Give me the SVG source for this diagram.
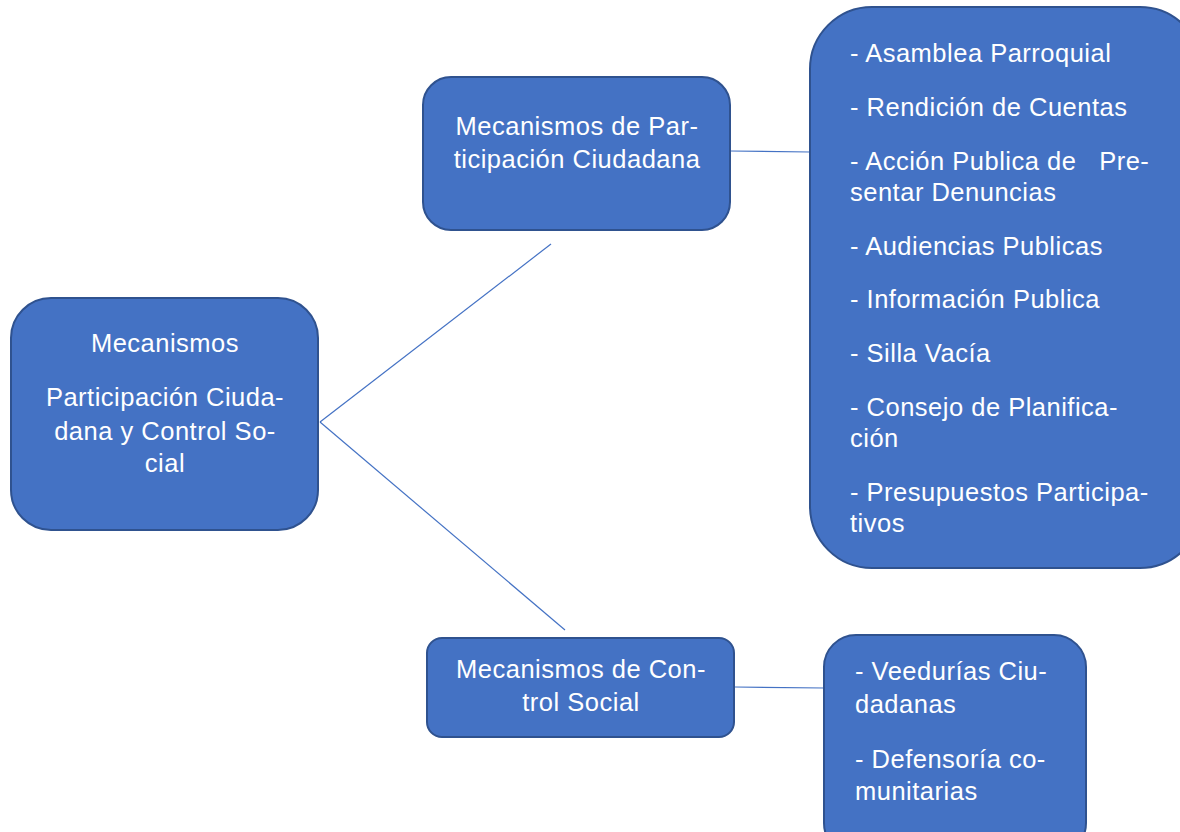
<svg xmlns="http://www.w3.org/2000/svg" width="1180" height="832" viewBox="0 0 1180 832">
<style>
.box{fill:#4472C4;stroke:#2F528F;stroke-width:2}
.t{font-family:"Liberation Sans",Arial,sans-serif;font-size:25.5px;fill:#ffffff;letter-spacing:0.5px}
.c{text-anchor:middle}
.ln{stroke:#4472C4;stroke-width:1.2;fill:none}
</style>
<rect width="1180" height="832" fill="#ffffff"/>
<g id="connectors">
<line class="ln" x1="320" y1="422" x2="551" y2="244"/>
<line class="ln" x1="320" y1="422" x2="565" y2="630"/>
<line class="ln" x1="730" y1="151" x2="810" y2="152"/>
<line class="ln" x1="735" y1="687" x2="824" y2="688"/>
</g>
<g id="root">
<rect class="box" x="11" y="298" width="307" height="232" rx="40"/>
<text class="t c" x="165" y="352">Mecanismos</text>
<text class="t c" x="165" y="406">Participación Ciuda-</text>
<text class="t c" x="165" y="440">dana y Control So-</text>
<text class="t c" x="165" y="472">cial</text>
</g>
<g id="participacion">
<rect class="box" x="423" y="77" width="307" height="153" rx="28"/>
<text class="t c" x="577" y="135">Mecanismos de Par-</text>
<text class="t c" x="577" y="168">ticipación Ciudadana</text>
</g>
<g id="participacion-list">
<rect class="box" x="810" y="7" width="392" height="561" rx="62"/>
<text class="t" x="850" y="62">- Asamblea Parroquial</text>
<text class="t" x="850" y="116">- Rendición de Cuentas</text>
<text class="t" x="850" y="170" xml:space="preserve">- Acción Publica de   Pre-</text>
<text class="t" x="850" y="201">sentar Denuncias</text>
<text class="t" x="850" y="255">- Audiencias Publicas</text>
<text class="t" x="850" y="308">- Información Publica</text>
<text class="t" x="850" y="362">- Silla Vacía</text>
<text class="t" x="850" y="416">- Consejo de Planifica-</text>
<text class="t" x="850" y="447">ción</text>
<text class="t" x="850" y="501">- Presupuestos Participa-</text>
<text class="t" x="850" y="532">tivos</text>
</g>
<g id="control">
<rect class="box" x="427" y="638" width="307" height="99" rx="15"/>
<text class="t c" x="581" y="678">Mecanismos de Con-</text>
<text class="t c" x="581" y="711">trol Social</text>
</g>
<g id="control-list">
<rect class="box" x="824" y="635" width="262" height="220" rx="32"/>
<text class="t" x="855" y="680">- Veedurías Ciu-</text>
<text class="t" x="855" y="713">dadanas</text>
<text class="t" x="855" y="768">- Defensoría co-</text>
<text class="t" x="855" y="800">munitarias</text>
</g>
</svg>
